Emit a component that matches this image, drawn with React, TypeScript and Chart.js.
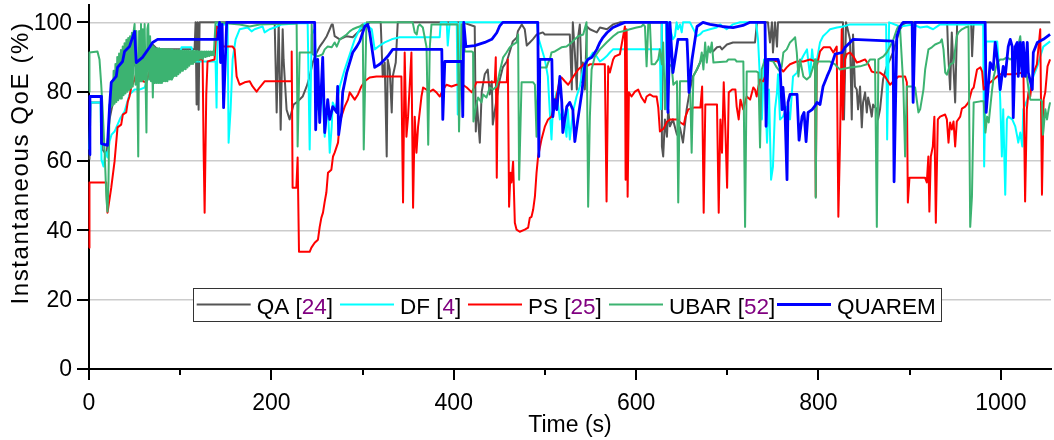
import { useEffect, useRef } from "react";
import { Chart, registerables } from "chart.js";

Chart.register(...registerables);

// ---- data: [time (s), instantaneous QoE (%)] ----
const qaPoints: [number, number][] = [
  [0.5,60.4],[1.6,76.9],[13.7,76.9],[14.8,63.3],[19.2,61.8],[22.5,72],[28,79.2],[33.5,82],[42.3,85],[50,87.8],[61,90.7],[69.7,93.6],[75.2,92.2],[115.8,92.2],[116.9,100],[118,76.3],[119.1,100],[120.2,74.8],[121.3,100],[203.6,100],[205.8,74],[208,100],[210.2,69],[212.4,98],[213.4,89.3],[216.7,74.8],[220,72],[224.4,76.3],[227.7,76.9],[234.3,78.6],[238.7,81.5],[242,84.4],[245.3,88.4],[249.7,91.3],[253,93],[256.3,94.2],[260.7,96],[264,98],[266.2,99.4],[267.3,99.4],[269.4,96],[275,95.1],[282.6,96],[289.2,95.7],[294.7,97.1],[300.2,98],[304.6,99.4],[307.8,100],[319.9,100],[322.1,84.4],[324.3,88.4],[326.5,61.3],[327.6,89.3],[329.8,86.4],[332,74],[333.1,84.4],[336.4,88.4],[338.6,100],[409.9,100],[423,98.8],[424.2,68.5],[425.3,77.2],[428.6,65.3],[430.7,80],[434,85],[437.3,86.4],[439.5,79.2],[441.7,83],[442.8,70.5],[447.2,78.3],[450.5,83.5],[453.8,87],[458.2,88.7],[461.5,91.6],[464.8,94.5],[469.2,95.6],[470.3,97.4],[474.6,99.4],[477.9,98],[480.1,93.3],[483.4,94.2],[486.7,95.1],[491.1,96.5],[497.7,97.1],[499.9,96.5],[527.3,96.5],[529.5,80.6],[530.6,100],[532.8,91.3],[535,80.6],[536.1,95.1],[538.3,99.4],[540.5,82.7],[541.6,88.4],[543.8,80.6],[546,98.8],[549.3,98],[556.9,97.1],[560.3,98.5],[568,98],[574.6,99.4],[582.2,100],[628,100],[628.3,64.2],[629.7,61.3],[631.6,72],[633.8,67],[635.2,74.9],[637.1,70],[640.4,72],[644.8,67.6],[648.1,69.7],[651.4,65.3],[655.4,74.9],[659.1,80.6],[662.3,84.4],[666.8,86.4],[670.1,88.4],[673.3,90.2],[677.7,91.3],[681,92.2],[684.3,91.6],[688.7,92.8],[692,93],[694.2,92.2],[699.6,93.6],[706.2,94.2],[730.4,94.2],[732.6,100],[744.6,100],[746.8,94.2],[749,100],[750.1,91.3],[752.3,100],[754.5,93],[755.6,100],[826.9,100],[828,72],[830.2,100],[834.6,95.1],[836.5,72],[837.9,96.5],[840,81.5],[842,80.6],[843.4,74.9],[845.6,81.5],[847.5,69.7],[848.9,76.9],[851.1,79.8],[853,74],[854.4,78.3],[856.6,75.7],[858.4,72.8],[859.9,76.3],[864,74.9],[865.3,72],[867.5,74.9],[869.4,79.8],[870.8,83.5],[874.9,87.3],[878.5,89.3],[881.8,91.3],[885.9,95.1],[889.5,98],[892.8,99.4],[896.9,100],[941.1,100],[942.2,91.3],[944.4,80.6],[946.2,97.1],[949.9,76.9],[952.1,100],[967.4,100],[968.5,90.2],[970.2,100],[1054,100]
];

const dfPoints: [number, number][] = [
  [0.5,63.3],[1.6,76.9],[12.6,76.9],[13.7,60.4],[15.9,58.4],[18.1,62.7],[20.3,61],[22.5,65.6],[24.7,67.6],[28,68.5],[31.3,70.5],[34.6,72.5],[39,74.3],[44.4,79.2],[50,80.6],[55.4,80.6],[61,81.2],[66.4,85],[69.7,88.7],[77.4,89.3],[99.3,90.7],[101.5,92.8],[112.4,92.8],[115.8,88.7],[138.8,88.7],[139.9,75.4],[141,99.4],[152,99.4],[153.1,65.3],[155.3,74.9],[157.5,89.3],[160.8,95.1],[165.2,98],[173.9,98.5],[178.3,97.4],[181.6,98],[187.1,98.5],[190.4,98.8],[192.6,97.1],[198,98],[203.6,98.5],[211.3,99.4],[231,99.7],[239.8,99.7],[242,63.3],[244.2,96.5],[247.5,98],[250.8,74.9],[254,77.7],[256.3,78.6],[258.5,67],[261.8,77.7],[264,62.4],[266.2,70],[267.3,76.9],[270.5,74.9],[275,81.5],[280.4,86.4],[285.9,90.7],[291.4,95.1],[296.9,98],[302.4,99.7],[310.1,98],[313.3,92.2],[318.8,93.3],[324.3,94.2],[331.9,95.1],[340.7,95.7],[384.6,95.7],[385.7,100],[392.3,100],[393.4,93.3],[395.6,100],[403.3,100],[404.4,73.4],[406.6,100],[491.1,100],[493.3,95.1],[499.9,89.3],[503.2,84.4],[505.4,74],[507.2,66.2],[508.7,74.9],[512.7,79.8],[516.4,72],[519.6,74.9],[523.7,67],[525.1,74.9],[527.3,66.2],[530.6,74],[534.7,78.6],[538.3,81.5],[541.6,86.4],[545.6,89.3],[549.3,89.9],[552.6,91.3],[556.6,90.2],[560.3,88.7],[563.6,89.3],[567.6,90.2],[571.2,91.3],[574.6,92.2],[626.1,92.2],[627.2,74.9],[628.3,100],[632.7,100],[633.8,74.9],[635.4,100],[640.4,95.1],[642.6,96],[644.4,100],[645.9,98],[648.1,99.4],[650,97.1],[651.4,100],[659.1,100],[666.8,96],[670.1,96.5],[673.3,97.4],[681,98],[688.3,98.5],[692,99.4],[699.3,98],[706.2,99.4],[713.9,100],[731.5,100],[733.7,95.1],[738,72],[740.2,89.3],[743.6,65.3],[745.7,80.6],[748,54.6],[750.1,58.4],[752.3,74.9],[754.5,79.8],[755.6,85],[757.8,72],[761.1,72.8],[765.5,75.7],[768.8,72],[772.1,84.4],[776.5,85.5],[779.8,88.4],[783.1,90.2],[787.4,92.2],[788.6,89.3],[790.8,84.4],[793,92.2],[794.1,89.3],[798.4,89.3],[801.7,94.2],[805,96],[809.4,97.1],[812.7,98],[820.4,98.5],[827,98.8],[834.6,99.4],[874.2,99.4],[875.3,66.2],[877.5,100],[889.5,98.8],[903.8,99.4],[911.4,98.5],[919.1,98.8],[925.7,98],[933.4,99.4],[980.6,99.4],[981.7,58.4],[983.9,94.5],[996,94.5],[997.1,90.2],[999.3,77.7],[1001.1,61.3],[1002.6,74.9],[1004.8,50.3],[1006.6,72],[1008.1,72.8],[1012.5,72],[1015.8,70],[1018,67],[1019.1,65.3],[1021.3,68.2],[1023.5,64.2],[1024.6,74.9],[1029,77.7],[1032.3,81.5],[1035.6,84.4],[1040,87.3],[1043.3,90.2],[1046.6,93],[1054,94.5]
];

const psPoints: [number, number][] = [
  [0,35],[0.5,53.8],[18.9,53.8],[20.3,45.1],[24.4,52.3],[28,59.8],[31.3,69.7],[35.3,70.5],[37.1,73.4],[40.8,74],[42.6,77.2],[44.4,78.6],[46.3,81.2],[50,83.5],[53.6,87],[57.3,87.9],[59,83],[62.8,82.7],[66.4,85.8],[68.3,87.9],[77.4,88.7],[93.8,89.3],[110.3,89.3],[124.6,89.3],[125.7,63.3],[126.8,45.1],[128.6,79.2],[130,88.7],[137.7,89.3],[139.9,98.8],[143.2,98],[146.5,93],[157.5,93],[159.7,92.2],[161.9,84.4],[165.2,82],[170.7,82.7],[176.2,83],[179.4,81.5],[183.8,80],[187.1,81.2],[192.6,83],[222,83],[222.3,91.6],[223.3,52.3],[227.4,52.3],[228.8,61],[230.3,33.8],[242,33.8],[243.9,35],[247.5,36.4],[251.1,37.3],[253,41],[254.8,43.6],[256.6,45.1],[258.5,48.3],[260.3,50.9],[262.1,56.6],[265.8,57.5],[267.6,61.3],[269.4,62.4],[273.1,65.3],[274.9,71.1],[276.8,72.8],[280.4,75.7],[284,77.7],[285.9,79.8],[291.4,77.7],[295,79.2],[298.7,81.5],[302.4,83],[307.8,84.1],[315.2,84.4],[342.6,84.4],[344.4,48],[346.2,91.3],[348.1,67],[349.9,72.8],[353.6,91.3],[355.4,46.5],[357.2,72.8],[359.1,62.4],[360.9,70],[364.6,78.6],[366.4,81.2],[370.1,80.6],[373.7,80],[377.3,80.6],[381,79.8],[384.7,78.6],[388.3,80.6],[392,82],[397.5,81.5],[403,82],[409.9,82],[414.3,81.2],[419.8,79.8],[424.9,82.7],[445,82.7],[446.1,89.9],[447.2,55.2],[448.3,82.7],[458.2,82.7],[459.3,89.3],[460.7,46.8],[462.2,56.6],[463.3,53.8],[465.1,59.8],[467,42.2],[468.9,40.2],[472.4,39.6],[477.9,40.2],[481.6,40.8],[483.4,43.6],[485.3,43.9],[487.1,46],[489,49.7],[490.8,56.6],[492.5,61.3],[496.2,66.2],[499.9,69.9],[503.5,72],[507.2,72.8],[512.7,78.6],[516.4,83.5],[518.2,84.1],[521.8,83],[525.5,82],[529.2,83.5],[532.8,85],[536.5,86.4],[540.2,87.3],[542,87.9],[545.6,87.3],[549.3,87.9],[565.7,87.9],[567.6,48.3],[569.4,87.3],[571.2,85.5],[574.8,89.3],[576.8,90.2],[582.2,90.8],[585.8,96],[587.7,98.8],[588.5,54.6],[589.6,98],[590.7,49.7],[592.1,79.8],[595,78.6],[598.7,80],[602.3,80.6],[606,78.3],[609.6,76.9],[611.5,78.6],[615.1,79.2],[618.8,78.6],[622.5,78.6],[624.3,75.4],[626.1,68.5],[630.3,69.4],[634,71.4],[637.6,72],[645,72],[648.6,71.1],[652.3,70.5],[654.1,72.8],[657.2,74.9],[663.2,75.4],[670.5,75.4],[672.4,81.5],[674.1,45.1],[675.9,76.3],[688.7,76.3],[690.6,45.1],[692.4,72],[694.2,62.4],[696.1,82.7],[697.9,69.1],[699.8,52.3],[701.6,79.8],[705.3,80.6],[708.9,80.6],[710.3,75.7],[712.5,72],[714.4,77.7],[717.5,74.9],[721.3,78.6],[725,77.7],[728.5,81.2],[730.4,80.6],[732.2,78.6],[734.1,81.5],[735.9,83.5],[739.5,83],[741.4,84.4],[743.2,89.3],[755.9,88.7],[757.8,87],[761.4,85.8],[765.2,87],[768.8,87.9],[776.1,88.7],[783.4,88.7],[790.8,89.3],[796.2,88.7],[797,49.7],[798.1,87.3],[801.7,91.6],[805.4,92.8],[812.7,92.8],[816.3,91.3],[820,93],[821.8,43.9],[823.6,65.3],[825.5,98],[826.6,72],[829.1,89.3],[831,90.8],[834.6,91.3],[838.2,90.2],[842,88.4],[845.6,88.7],[851.1,89.3],[854.7,87.9],[858.4,85.8],[862,85.5],[867.5,85.5],[873,84.4],[878.5,82],[882.2,83],[887.6,84.4],[895,84.4],[896.9,82.7],[898,48],[899.8,55.2],[916.9,55.2],[918.8,53.8],[920.5,61.3],[921.6,45.4],[923.2,61.3],[925.4,64.2],[927.1,72.8],[928.7,42.2],[930.9,72],[933.4,72.8],[938.9,73.4],[940.8,72],[942.6,65.3],[944.4,71.1],[946.2,69.1],[948.1,71.4],[949.9,64.2],[951.7,71.4],[955.4,72.8],[957.3,75.1],[960.9,75.7],[964.5,76.9],[968.3,80.6],[970.2,81.2],[973.9,86.4],[977.6,87],[979.5,85.8],[981.2,80.6],[984.9,82],[988.6,82.7],[992.2,83.5],[995.9,84.4],[999.3,85],[1013.9,85],[1024.8,85.5],[1026.6,48.3],[1028.5,74.9],[1030.3,79.8],[1032.2,78.6],[1034,82.7],[1035.8,85.5],[1039.5,87.9],[1043.2,98],[1045.1,50.3],[1046.9,77.7],[1048.7,79.8],[1051.2,87.3],[1054,89.3]
];

const ubarPoints: [number, number][] = [
  [0,80],[0.5,91.3],[9.3,91.6],[11.5,89.3],[13.4,82],[14.8,75.7],[17,63.3],[19.2,48.8],[20.3,45.4],[21.4,54.6],[22.5,76.3],
  [23,79],[24,75.5],[25,83],[26,76],[27,86],[28,76.5],[29,88],[30,77],[31,90],[32,77.5],[33,91],[34,78],[35,92],[36,78],[37,93],[38,79],[39,94],[40,79.5],[41,95],[42,80],[43,95.5],[44,80.5],[45,96],[46,81],[47,97],[48,81.5],[49,97.5],[50,99.5],[51,82],[52,97.5],[53,82.5],[54,61.3],[55,97.5],[56,83],[57,99.5],[58,83],[59,98],[60,83.5],[61,99.5],[62,83.5],[63,68.2],[64,98],[65,99.5],[66,83.5],[67,96],[68,83],[69,94],[70,78.3],[71,93],[72,82.5],[73,92.5],[74,82.5],[75,92.5],[76,82.5],[77,92.5],[78,82.5],[79,92.3],[80,82.5],[81,92.3],[82,83],[83,92.3],[84,83],[85,92.2],[86,83],[87,92.2],[88,83.5],[89,92.2],[90,83.5],[91,92.2],[92,84],[93,92],[94,84.5],[95,92],[96,84.5],[97,92],[98,85],[99,92],[100,85.5],[101,91.8],[102,86],[103,91.8],[104,86.5],[105,91.8],[106,86.5],[107,91.8],[108,87],[109,91.8],[110,87.5],[111,91.7],[112,88],[113,91.7],[114,88],[115,91.7],[116,88.5],[117,91.7],[118,89],[119,91.7],[120,89],[121,91.6],[122,89.5],[123,91.6],[124,89.5],[125,91.6],[126,90],[127,91.6],[128,90],[129,91.6],[130,90.2],[131,91.6],[132,90.3],[133,91.6],[134,90.5],[135,91.6],[136,90.5],[137,91.6],
  [138.8,100],[165.2,99.4],[176.2,98.8],[187.1,99.4],[227.7,99.7],[228.8,64.2],[231,91.3],[243.9,91.3],[244.2,99.4],[245.3,90.8],[250.8,90.2],[256.3,90.8],[258.5,92.2],[261.8,93],[266.2,92.8],[269.4,94.2],[271.7,93],[275,95.1],[278.2,95.7],[282.6,96.5],[285.9,97.4],[289.2,98],[293.6,98.5],[296.9,98.8],[300.2,99.4],[301.3,63.3],[304.2,99.4],[304.6,100],[355,100],[357.2,97.1],[359.4,96.5],[360.9,98.8],[362.7,99.4],[366.1,98.5],[370.2,92.8],[372,64.7],[373.7,92.8],[375.6,99.4],[404.4,99.4],[405.8,68.5],[408.5,99.4],[409.9,99.4],[412.1,91.6],[419.5,91.6],[421.2,91.3],[421.6,71.4],[424.9,76.3],[426.7,78.3],[430.4,76.9],[432.2,79.2],[435.9,78.3],[439.5,81.2],[443.2,80.6],[446.9,81.5],[448.7,83.5],[450.5,85.8],[454.2,89.9],[457.9,91.3],[461.5,92.8],[465.1,93.6],[468.9,94.2],[470.6,96.5],[471.7,54.6],[474.4,82.7],[487.1,82.7],[489,82],[490.8,67],[492.7,87],[501.8,87],[503.6,88.4],[505.4,89.3],[507.2,91.3],[510.9,91.6],[514.6,92.2],[518.2,92.8],[523.7,93],[529.2,94.2],[532.8,95.1],[536.5,96],[542,96.5],[545.6,100],[547.4,46.8],[549.3,72.8],[551.2,86.4],[554.8,90.2],[560.3,92.2],[567.6,94.2],[574.8,96],[580.4,97.1],[585.8,97.4],[593.2,98],[600.5,98.5],[606,98.8],[607.8,99.4],[609.7,98.8],[611.5,87.3],[613.3,99.4],[615.1,100],[617,87.9],[620.6,87.9],[624.3,89.3],[626.1,92.2],[628.3,87.9],[629.7,94.2],[631.6,74.9],[633.8,88.4],[639,87.3],[640.8,82],[644.8,83],[646.2,48],[648.1,83],[659.1,83],[660.9,62.4],[662.8,84.4],[666.5,86.4],[670.1,88.4],[672,91.3],[673.8,86.4],[675.7,94.2],[677.5,88.4],[679.3,93],[681.2,91.3],[683,94.2],[684.8,88.4],[699.3,88.7],[701.2,89.3],[708.4,89.3],[710.3,88.7],[717.6,88.7],[719.5,41],[721.3,85.8],[732.2,85.8],[734.1,85.5],[735.9,63.9],[737.7,86.4],[741.4,89.3],[750.5,88.7],[754.2,87],[757.8,85.8],[759.7,87.3],[761.5,91.3],[765.2,92.2],[768.8,94.2],[772.4,95.1],[774.4,95.7],[776.2,91.3],[778,84.4],[779.8,89.3],[783.4,84.4],[787.1,83.5],[790.8,84.4],[794.4,87.3],[796.2,89.3],[797,49.4],[798.1,88.7],[805.4,88.7],[812.7,88.7],[818.2,87.9],[820,87.3],[823.6,86.4],[834.6,87],[845.6,87.3],[853,87.9],[856.6,89.3],[862,89.3],[864,41],[865.7,89.3],[871.2,90.2],[874.9,91.3],[878.5,93],[882.2,95.1],[885.9,98],[887.6,98.8],[889.5,98],[893.1,81.5],[895,61.3],[896.9,81.5],[902.4,81.5],[906,81.2],[909.6,74],[911.5,74.9],[913.3,77.7],[915.1,80.6],[917,86.4],[918.8,89.3],[920.6,92.2],[924.3,92.8],[927.9,93.6],[933.4,94.2],[935.3,95.1],[937.1,92.2],[939,85.5],[940.8,84.9],[944.4,87.9],[948.1,88.4],[951.7,96],[953.6,97.1],[957.3,98],[960.9,98.5],[964.5,98.8],[966.4,41],[968.3,49.7],[970.2,76.9],[977.6,77.2],[981.2,77.2],[983.1,68.2],[984.9,72.8],[986.7,71.1],[990.4,80.6],[992.2,84.4],[995.9,88.4],[999.3,89.3],[1002.9,89.3],[1006.6,89.9],[1010.2,89.3],[1013.9,89.9],[1015.8,89.3],[1021.3,96],[1023.1,89.3],[1028.6,84.4],[1030.4,80.6],[1032.3,77.7],[1043.3,77.7],[1045.1,77.2],[1046.2,67.6],[1048.8,74.9],[1050.6,72],[1052.4,74.9],[1054,76.9]
];

const quaremPoints: [number, number][] = [
  [0.5,61.8],[1,78.6],[13.4,78.6],[13.7,65],[20.3,64.5],[22.5,75.4],[24.4,82.7],[29.9,84.4],[31.3,87],[36.8,88.7],[39,91.6],[44.4,93],[50,97.4],[51.8,88.4],[58.7,89.9],[66.4,92.8],[69.7,94.2],[75.2,95.1],[141,95.1],[143.2,100],[144.3,88.4],[146,99.4],[147.6,75.4],[151,100],[247.5,100],[248.6,69],[250.8,89.3],[253,71.1],[256.3,89.9],[258.5,68.2],[261.8,77.7],[264,72],[267.3,75.7],[271.7,74],[272.7,81.5],[273.8,67.6],[277.1,74],[278.2,79.8],[282.6,85.5],[285.9,88.4],[289.2,91.3],[293.6,93],[296.9,94.5],[302.4,98.8],[305.7,99.4],[307.8,97.1],[313.3,87],[318.8,87.9],[324.3,89.3],[327.6,90.2],[333.1,92.2],[386.9,92.2],[388,72],[390.2,88.7],[408.8,88.7],[409.9,72.8],[411,100],[413.3,93],[423,93.3],[434,94.2],[441.7,95.1],[447.2,97],[450.5,99],[453.8,100],[492.2,100],[493.3,61.3],[494.4,89.3],[507.6,89.3],[508.7,72.8],[510.9,77.7],[513,74.8],[516.4,84.4],[518.5,76.9],[519.6,68.2],[524,75.7],[527.3,76.9],[530.6,74.8],[532.8,65.6],[536.1,72],[540.5,79.8],[543.8,87.8],[547.1,89.3],[551.5,89.9],[556.9,92.2],[560.3,94.2],[563.6,95.6],[568,97],[574.6,98.5],[582.2,99.4],[587.7,100],[633.8,100],[634.9,74],[637.1,100],[640.4,85.5],[642.6,89.3],[645.9,95.1],[655.8,95.1],[656.9,88.4],[658,79.8],[661.3,89.3],[666.8,98.8],[673.3,100],[681,99.4],[694.2,98.8],[706.3,98.5],[717.2,99.1],[725,100],[741.4,100],[742.5,70],[744.6,89.3],[755.6,89.3],[757.8,87.3],[760,74.8],[761.1,81.2],[763.3,74],[765.5,54.6],[766.6,76.9],[768.8,79.2],[776.5,79.2],[778.7,66],[782,72.8],[784.2,74],[786.4,65.6],[788.6,74],[793,74.8],[796.2,75.9],[798.4,76.9],[801.7,76.3],[805,81.5],[809.4,84.4],[812.7,86.4],[818.2,90.8],[825.9,91.3],[829.2,92.8],[834.6,94.2],[837.9,95.1],[881.8,94.6],[882.9,54],[885.9,95.9],[889.5,98.8],[892.8,100],[902.7,100],[903.8,76.9],[906,100],[982.8,100],[983.9,74],[988.3,88.4],[991.6,86.4],[993.8,94.2],[997.1,87.3],[999.3,80.6],[1002.6,87.3],[1004.8,84.4],[1008.1,93],[1010.3,95.1],[1012.5,93],[1013.6,72.5],[1015.8,93],[1018,94.2],[1019.1,84.4],[1021.3,94.2],[1023.5,84.4],[1024.6,94.2],[1026.8,84.4],[1029,94.2],[1030.1,85.5],[1034.5,80.6],[1035.6,91.3],[1040,94.2],[1046.6,95.1],[1054,96.5]
];

const seriesNames = ["QA", "DF", "PS", "UBAR", "QUAREM"];
const seriesRefs = ["24", "4", "25", "52", ""];
const seriesColors = ["#555555", "#00ffff", "#ff0000", "#3cb371", "#0000ff"];
const seriesWidths = [2, 2, 2, 2, 2.8];
const seriesData = [qaPoints, dfPoints, psPoints, ubarPoints, quaremPoints];

const yTickValues = [0, 20, 40, 60, 80, 100];
const xMajorTicks = [0, 200, 400, 600, 800, 1000];
const xMinorTicks = [100, 300, 500, 700, 900];

const FONT = '"Liberation Sans", Arial, Helvetica, sans-serif';

const decorPlugin = {
  id: "decor",
  afterDraw(chart: any) {
    const { ctx, chartArea, scales } = chart;
    const xs = scales.x;
    const ys = scales.y;
    ctx.save();
    // tick marks
    ctx.strokeStyle = "#000";
    ctx.lineWidth = 2;
    ctx.beginPath();
    for (const v of yTickValues) {
      const py = Math.round(ys.getPixelForValue(v));
      ctx.moveTo(chartArea.left - 12, py);
      ctx.lineTo(chartArea.left, py);
    }
    for (const v of xMajorTicks) {
      const px = Math.round(xs.getPixelForValue(v));
      ctx.moveTo(px, chartArea.bottom);
      ctx.lineTo(px, chartArea.bottom + 11);
    }
    for (const v of xMinorTicks) {
      const px = Math.round(xs.getPixelForValue(v));
      ctx.moveTo(px, chartArea.bottom);
      ctx.lineTo(px, chartArea.bottom + 6);
    }
    ctx.stroke();

    // tick labels
    ctx.fillStyle = "#000";
    ctx.font = `23px ${FONT}`;
    ctx.textAlign = "right";
    ctx.textBaseline = "middle";
    for (const v of yTickValues) {
      ctx.fillText(String(v), chartArea.left - 17, ys.getPixelForValue(v) + 1);
    }
    ctx.textAlign = "center";
    ctx.textBaseline = "alphabetic";
    for (const v of xMajorTicks) {
      ctx.fillText(String(v), xs.getPixelForValue(v), chartArea.bottom + 41);
    }

    // axis titles
    ctx.fillText("Time (s)", 570, 432);
    ctx.save();
    ctx.translate(28, 163);
    ctx.rotate(-Math.PI / 2);
    ctx.font = `24px ${FONT}`;
    (ctx as any).letterSpacing = "1.6px";
    ctx.fillText("Instantaneous QoE (%)", 0, 0);
    ctx.restore();

    // legend
    const bx = 193, by = 288, bw = 748, bh = 33;
    ctx.fillStyle = "#ffffff";
    ctx.fillRect(bx, by, bw, bh);
    ctx.strokeStyle = "#333333";
    ctx.lineWidth = 1;
    ctx.strokeRect(bx + 0.5, by + 0.5, bw, bh);
    const itemX = [196.7, 340, 468, 609, 777];
    ctx.font = `22.5px ${FONT}`;
    ctx.textAlign = "left";
    for (let i = 0; i < seriesNames.length; i++) {
      const x0 = itemX[i];
      ctx.strokeStyle = seriesColors[i];
      ctx.lineWidth = seriesWidths[i];
      ctx.beginPath();
      ctx.moveTo(x0, 304.5);
      ctx.lineTo(x0 + 54, 304.5);
      ctx.stroke();
      let tx = x0 + 60;
      const ty = 313.5;
      const name = seriesRefs[i] ? seriesNames[i] + " [" : seriesNames[i];
      ctx.fillStyle = "#000";
      ctx.fillText(name, tx, ty);
      tx += ctx.measureText(name).width;
      if (seriesRefs[i]) {
        ctx.fillStyle = "#800080";
        ctx.fillText(seriesRefs[i], tx, ty);
        tx += ctx.measureText(seriesRefs[i]).width;
        ctx.fillStyle = "#000";
        ctx.fillText("]", tx, ty);
      }
    }
    ctx.restore();
  },
};

export default function App() {
  const ref = useRef<HTMLCanvasElement | null>(null);
  useEffect(() => {
    document.body.style.margin = "0";
    const canvas = ref.current;
    if (!canvas) return;
    Chart.defaults.font.family = FONT;
    const chart = new Chart(canvas, {
      type: "line",
      data: {
        datasets: seriesData.map((pts, i) => ({
          label: seriesNames[i],
          data: pts.map(([t, v]) => ({ x: t, y: v })),
          borderColor: seriesColors[i],
          backgroundColor: seriesColors[i],
          borderWidth: seriesWidths[i],
          pointRadius: 0,
          tension: 0,
          fill: false,
          borderJoinStyle: "round" as const,
          order: seriesNames.length - 1 - i,
          clip: 6,
        })),
      },
      options: {
        responsive: false,
        animation: false,
        layout: { padding: { left: 0, right: 3, top: 5, bottom: 0 } },
        plugins: {
          legend: { display: false },
          tooltip: { enabled: false },
        },
        scales: {
          x: {
            type: "linear",
            min: 0,
            max: 1055,
            afterFit: (s: any) => { s.height = 71; },
            grid: { display: false, drawTicks: false },
            border: { display: true, color: "#000", width: 2 },
            ticks: { display: false, stepSize: 200, includeBounds: false },
          },
          y: {
            type: "linear",
            min: 0,
            max: 105,
            afterFit: (s: any) => { s.width = 89; },
            grid: { color: "#cccccc", lineWidth: 1.5, drawTicks: false },
            border: { display: true, color: "#000", width: 2 },
            ticks: { display: false, stepSize: 20, includeBounds: false },
          },
        },
      },
      plugins: [decorPlugin],
    });
    return () => chart.destroy();
  }, []);
  return <canvas ref={ref} width={1054} height={440} style={{ display: "block" }} />;
}
